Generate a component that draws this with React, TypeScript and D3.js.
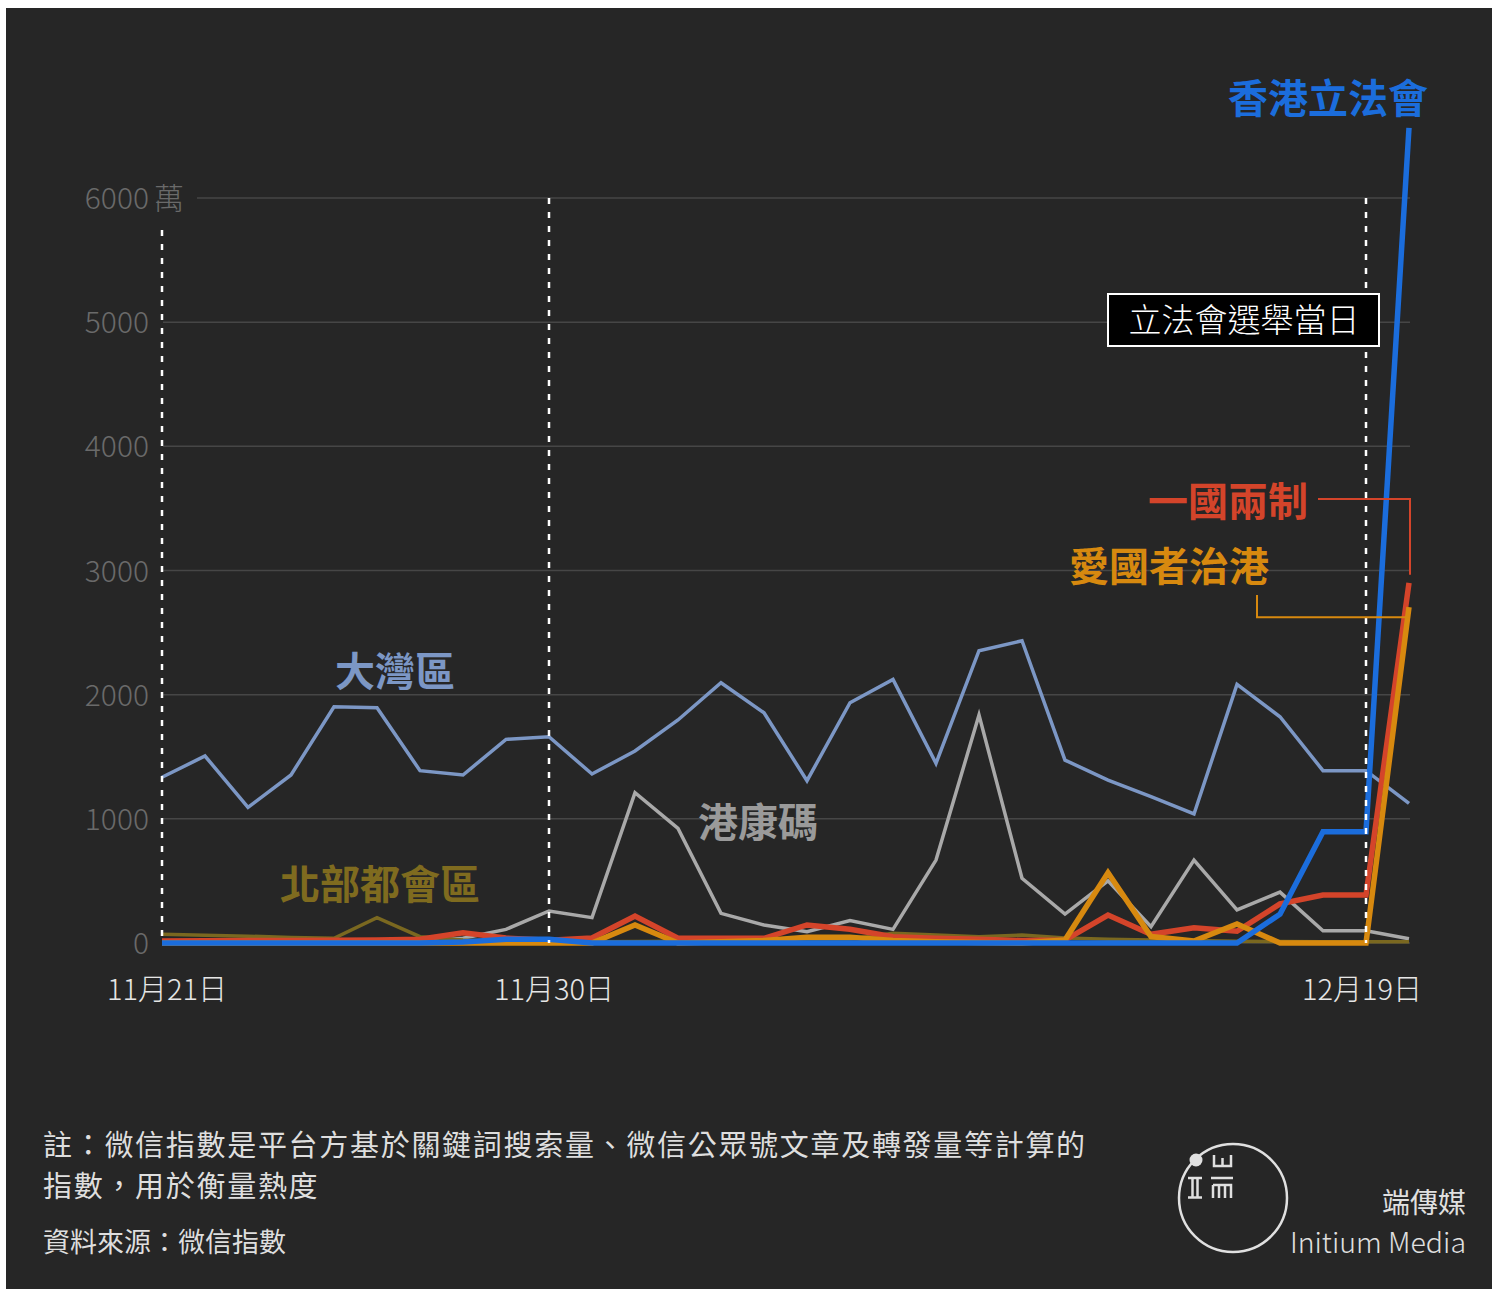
import React from "react";
import * as d3 from "d3";

// ---------- DATA ----------
const dateStrings = [
  "2021-11-21", "2021-11-22", "2021-11-23", "2021-11-24", "2021-11-25",
  "2021-11-26", "2021-11-27", "2021-11-28", "2021-11-29", "2021-11-30",
  "2021-12-01", "2021-12-02", "2021-12-03", "2021-12-04", "2021-12-05",
  "2021-12-06", "2021-12-07", "2021-12-08", "2021-12-09", "2021-12-10",
  "2021-12-11", "2021-12-12", "2021-12-13", "2021-12-14", "2021-12-15",
  "2021-12-16", "2021-12-17", "2021-12-18", "2021-12-19", "2021-12-20",
];

// values in 萬 (10k)
const greaterBayArea = [1335, 1506, 1092, 1353, 1903, 1895, 1388, 1353, 1640, 1661, 1361, 1546, 1796, 2096, 1854, 1307, 1935, 2123, 1447, 2354, 2434, 1473, 1312, 1178, 1039, 2083, 1822, 1388, 1388, 1125];
const healthCode = [0, 0, 0, 0, 0, 0, 10, 38, 110, 258, 204, 1210, 923, 239, 145, 91, 180, 110, 668, 1836, 521, 233, 500, 131, 668, 266, 410, 99, 99, 34];
const northernMetropolis = [70, 62, 55, 45, 38, 204, 51, 25, 15, 12, 10, 12, 15, 15, 15, 20, 30, 78, 64, 51, 64, 40, 30, 25, 20, 15, 12, 10, 10, 10];
const patriotsGovern = [0, 0, 0, 0, 0, 0, 0, 0, 0, 0, 0, 145, 0, 10, 20, 46, 46, 20, 10, 5, 0, 24, 566, 52, 16, 153, 0, 0, 0, 2705];
const oneCountryTwoSystems = [16, 18, 20, 20, 22, 25, 30, 83, 40, 23, 40, 217, 38, 38, 38, 145, 110, 51, 38, 30, 20, 24, 225, 70, 122, 95, 315, 386, 386, 2901];
const legco = [0, 0, 0, 0, 0, 0, 0, 8, 30, 30, 0, 0, 0, 0, 0, 0, 0, 0, 0, 0, 0, 0, 0, 0, 0, 0, 232, 896, 896, 6565];

const yTicks = [0, 1000, 2000, 3000, 4000, 5000, 6000];
const xTickDates = ["2021-11-21", "2021-11-30", "2021-12-19"];
const xTickLabels = ["11月21日", "11月30日", "12月19日"];
const markerDates = ["2021-11-21", "2021-11-30", "2021-12-19"];

const seriesNames = ["大灣區", "港康碼", "北部都會區", "一國兩制", "愛國者治港", "香港立法會"];

const noteLines = [
  "註：微信指數是平台方基於關鍵詞搜索量、微信公眾號文章及轉發量等計算的",
  "指數，用於衡量熱度",
];
const sourceText = "資料來源：微信指數";

// ---------- STYLE ----------
const FONT = "'Noto Sans CJK TC', 'Noto Sans CJK SC', 'Noto Sans', sans-serif";
const W = 1502;
const H = 1289;
const xLabelOffsets = [5, 5, -4];

const parse = d3.timeParse("%Y-%m-%d");
const dates = dateStrings.map((s) => parse(s) as Date);

const x = d3
  .scaleTime()
  .domain([dates[0], dates[dates.length - 1]])
  .range([162, 1409]);
const y = d3.scaleLinear().domain([0, 6000]).range([943, 198]);

type Series = {
  name: string;
  values: number[];
  color: string;
  width: number;
};

const series: Series[] = [
  { name: seriesNames[0], values: greaterBayArea, color: "#7c97c5", width: 3.5 },
  { name: seriesNames[1], values: healthCode, color: "#a9a9a9", width: 3.5 },
  { name: seriesNames[2], values: northernMetropolis, color: "#7a6820", width: 3.5 },
  { name: seriesNames[3], values: oneCountryTwoSystems, color: "#d4442a", width: 5.5 },
  { name: seriesNames[4], values: patriotsGovern, color: "#d7890f", width: 5.5 },
  { name: seriesNames[5], values: legco, color: "#1b6ddc", width: 5.5 },
];

const labels = [
  { text: seriesNames[0], x: 395, y: 686, color: "#7c97c5" },
  { text: seriesNames[1], x: 758, y: 837, color: "#9a9a9a" },
  { text: seriesNames[2], x: 380, y: 899, color: "#7f6b1f" },
  { text: seriesNames[3], x: 1228, y: 516, color: "#d4442a" },
  { text: seriesNames[4], x: 1169, y: 581, color: "#d7890f" },
  { text: seriesNames[5], x: 1328, y: 113, color: "#1b6ddc" },
];

const line = (vals: number[]) =>
  d3
    .line<number>()
    .x((_, i) => x(dates[i]))
    .y((d) => y(d))(vals) as string;

export default function App() {
  const lastX = x(dates[dates.length - 1]);
  const redTop = y(oneCountryTwoSystems[oneCountryTwoSystems.length - 1]);
  const orangeTop = y(patriotsGovern[patriotsGovern.length - 1]);

  return (
    <>
      <style>{`html,body{margin:0;padding:0;background:#fff;}`}</style>
      <svg width={W} height={H} style={{ display: "block" }} fontFamily={FONT}>
        <rect x={0} y={0} width={W} height={H} fill="#ffffff" />
        <rect x={6} y={8} width={1486} height={1281} fill="#262626" />

        {/* gridlines */}
        {yTicks.map((t) => (
          <line
            key={"g" + t}
            x1={t === 6000 ? 197 : 163}
            x2={1410}
            y1={y(t)}
            y2={y(t)}
            stroke="#464646"
            strokeWidth={1.5}
          />
        ))}

        {/* y tick labels */}
        {yTicks.map((t) => (
          <text
            key={"t" + t}
            x={149}
            y={y(t) + 11}
            textAnchor="end"
            fill="#6a6a6a"
            fontSize={30}
            fontWeight={300}
          >
            {t}
          </text>
        ))}
        <text x={154} y={y(6000) + 11} fill="#6a6a6a" fontSize={30} fontWeight={300}>
          萬
        </text>

        {/* x tick labels */}
        {xTickDates.map((d, i) => (
          <text
            key={"x" + d}
            x={x(parse(d) as Date) + xLabelOffsets[i]}
            y={1000}
            textAnchor="middle"
            fill="#e6e6e6"
            fontSize={29}
            fontWeight={300}
          >
            {xTickLabels[i]}
          </text>
        ))}

        {/* series lines */}
        {series.map((s) => (
          <path
            key={s.name}
            d={line(s.values)}
            fill="none"
            stroke={s.color}
            strokeWidth={s.width}
            strokeLinejoin="miter"
          />
        ))}

        {/* dashed markers */}
        {markerDates.map((d, i) => (
          <line
            key={"m" + d}
            x1={x(parse(d) as Date)}
            x2={x(parse(d) as Date)}
            y1={i === 0 ? 230 : 198}
            y2={943}
            stroke="#ffffff"
            strokeWidth={2.5}
            strokeDasharray="6 8"
          />
        ))}

        {/* annotation box */}
        <rect x={1108} y={294} width={271} height={52} fill="#000" stroke="#fff" strokeWidth={2} />
        <text x={1244} y={332} textAnchor="middle" fill="#fff" fontSize={33} fontWeight={300}>
          立法會選舉當日
        </text>

        {/* leader lines */}
        <polyline
          points={`1318,499 ${lastX + 1},499 ${lastX + 1},${redTop - 8}`}
          fill="none"
          stroke="#d4442a"
          strokeWidth={2}
        />
        <polyline
          points={`1257,595 1257,${orangeTop + 10} ${lastX},${orangeTop + 10}`}
          fill="none"
          stroke="#d7890f"
          strokeWidth={2}
        />

        {/* series labels */}
        {labels.map((l) => (
          <text
            key={"l" + l.text}
            x={l.x}
            y={l.y}
            textAnchor="middle"
            fill={l.color}
            fontSize={40}
            fontWeight={700}
          >
            {l.text}
          </text>
        ))}

        {/* footer */}
        {noteLines.map((t, i) => (
          <text
            key={"n" + i}
            x={43}
            y={1156 + i * 41}
            fill="#dedede"
            fontSize={29}
            letterSpacing={1.7}
          >
            {t}
          </text>
        ))}
        <text x={43} y={1252} fill="#dedede" fontSize={27}>
          {sourceText}
        </text>

        {/* logo */}
        <g stroke="#e0e0e0" fill="none" strokeWidth={2.5}>
          <circle cx={1233} cy={1198} r={54} />
          <path d="M1214,1155 V1166 H1231 V1155 M1222.5,1158 V1166" />
          <path d="M1188,1178 H1202 M1188,1197.5 H1202 M1192.5,1178 V1197.5 M1197.5,1178 V1197.5" />
          <path d="M1211,1178 H1233 M1213,1185 H1231 V1198 M1213,1185 V1198 M1219,1185 V1198 M1225,1185 V1198" />
        </g>
        <circle cx={1196} cy={1160} r={6.5} fill="#e0e0e0" />
        <text x={1466} y={1213} textAnchor="end" fill="#e0e0e0" fontSize={28}>
          端傳媒
        </text>
        <text x={1466} y={1253} textAnchor="end" fill="#e0e0e0" fontSize={28.5} fontWeight={300}>
          Initium Media
        </text>
      </svg>
    </>
  );
}
